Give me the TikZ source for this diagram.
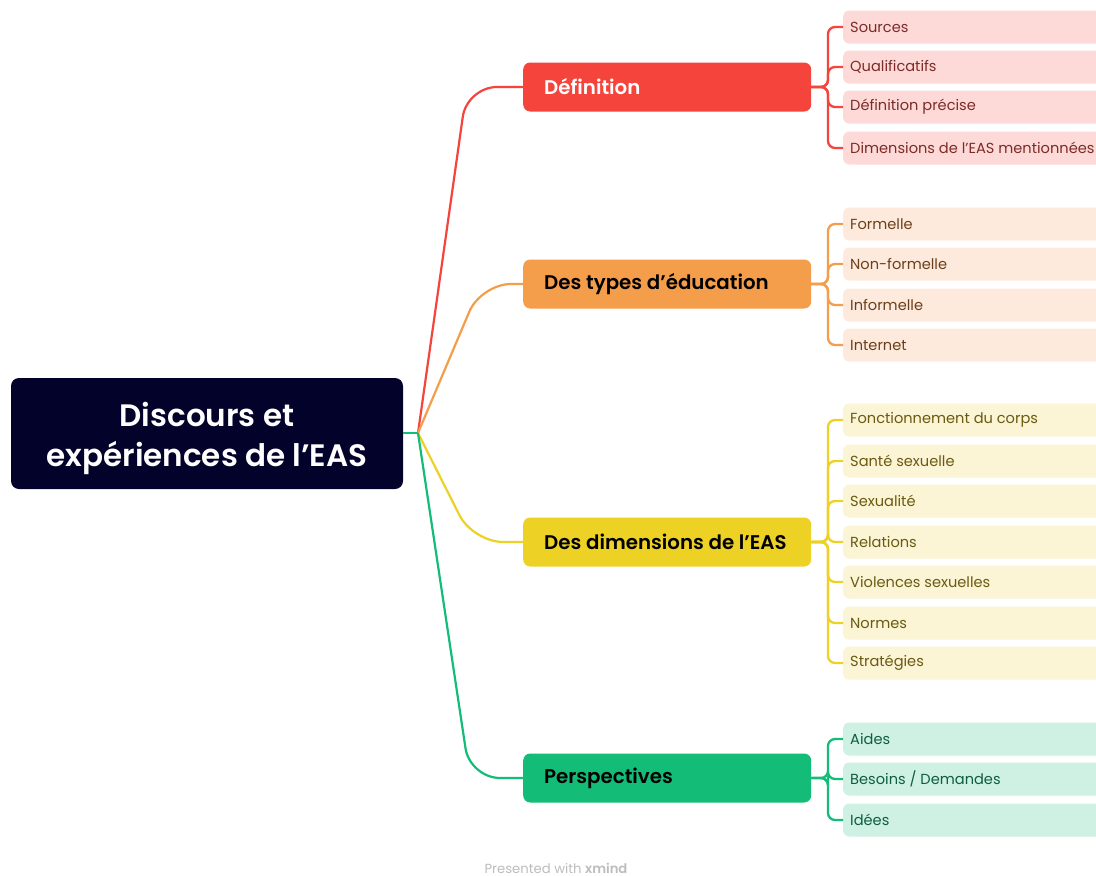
\documentclass[tikz,border=0pt]{standalone}
\usepackage{fontspec}
\setmainfont{Poppins}
\newfontfamily\semib{Poppins SemiBold}
\definecolor{rootc}{HTML}{02022A}
\definecolor{redc}{HTML}{F5443B}
\definecolor{redl}{HTML}{FDDAD8}
\definecolor{redt}{HTML}{7D2B27}
\definecolor{orac}{HTML}{F49D4B}
\definecolor{oral}{HTML}{FDEADC}
\definecolor{orat}{HTML}{6B3F1B}
\definecolor{yelc}{HTML}{EDD125}
\definecolor{yell}{HTML}{FBF4D5}
\definecolor{yelt}{HTML}{6B5A12}
\definecolor{grnc}{HTML}{13BD78}
\definecolor{grnl}{HTML}{CFF1E3}
\definecolor{grnt}{HTML}{0F5E3F}
\definecolor{foot}{HTML}{BDBDBD}
\newcommand\maintxt[1]{\makebox[246pt][l]{#1}}
\newcommand\leaftxt[1]{\makebox[266pt][l]{#1}}
\tikzset{
  rootbox/.style={fill=rootc, rounded corners=8pt, minimum width=392pt, minimum height=111pt},
  roottext/.style={text=white, align=center, font=\fontsize{31}{40}\selectfont\semib},
  mainbox/.style={anchor=west, rounded corners=7pt, minimum width=288pt, minimum height=49pt, inner xsep=21pt, font=\fontsize{19.8}{23}\selectfont\semib},
  leafbox/.style={anchor=west, rounded corners=6pt, minimum height=33pt, inner xsep=7pt, font=\fontsize{14.6}{18}\selectfont},
  branch/.style={line width=2.2pt, rounded corners=30pt},
  twig/.style={line width=2.3pt, rounded corners=7pt},
}
\begin{document}
\begin{tikzpicture}[x=1pt, y=-1pt]
\useasboundingbox (0,0) rectangle (1096,876);
\fill[white] (0,0) rectangle (1096,876);
\clip (0,0) rectangle (1096,876);

\node[rootbox] (root) at (207,433.5) {};
\node[roottext] (roottxt) at (207,438.5) {Discours et\\expériences de l’EAS};
\coordinate (j) at (418,433);

\node[mainbox, fill=redc, text=white] (m1) at (523,87) {\maintxt{Définition}};
\node[mainbox, fill=orac, text=black] (m2) at (523,284) {\maintxt{Des types d’éducation}};
\node[mainbox, fill=yelc, text=black] (m3) at (523,542) {\maintxt{Des dimensions de l’EAS}};
\node[mainbox, fill=grnc, text=black] (m4) at (523,778) {\maintxt{Perspectives}};

\draw[branch, redc] (j) -- (467,87) -- (m1.west);
\draw[branch, orac] (j) -- (481,284) -- (m2.west);
\draw[branch, yelc] (j) -- (473,542) -- (m3.west);
\draw[branch, grnc] (j) -- (470,778) -- (m4.west);
\draw[line width=2.2pt, grnc] (root.east |- j) -- (j);

% Definition leaves
\foreach \n/\y/\t in {a1/27/Sources, a2/67/Qualificatifs, a3/107/Définition précise, a4/148/Dimensions de l'EAS mentionnées}{
  \node[leafbox, fill=redl, text=redt] (\n) at (843,\y) {\leaftxt{\t}};
  \draw[twig, redc] (m1.east) -- (828,87) -- (828,\y) -- (\n.west);
}
\foreach \n/\y/\t in {b1/224/Formelle, b2/264/Non-formelle, b3/305/Informelle, b4/345/Internet}{
  \node[leafbox, fill=oral, text=orat] (\n) at (843,\y) {\leaftxt{\t}};
  \draw[twig, orac] (m2.east) -- (828,284) -- (828,\y) -- (\n.west);
}
\foreach \n/\y/\t in {c1/420/Fonctionnement du corps, c2/461/Santé sexuelle, c3/501/Sexualité, c4/542/Relations, c5/582/Violences sexuelles, c6/623/Normes, c7/663/Stratégies}{
  \node[leafbox, fill=yell, text=yelt] (\n) at (843,\y) {\leaftxt{\t}};
  \draw[twig, yelc] (m3.east) -- (828,542) -- (828,\y) -- (\n.west);
}
\foreach \n/\y/\t in {d1/739/Aides, d2/779/{Besoins / Demandes}, d3/820/Idées}{
  \node[leafbox, fill=grnl, text=grnt] (\n) at (843,\y) {\leaftxt{\t}};
  \draw[twig, grnc] (m4.east) -- (828,778) -- (828,\y) -- (\n.west);
}

\node[text=foot, font=\fontsize{13.2}{15}\selectfont] (footer) at (556,868) {Presented with {\semib xmind}};
\end{tikzpicture}
\end{document}
